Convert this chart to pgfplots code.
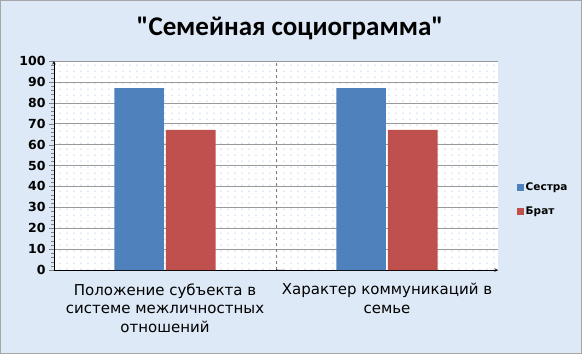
\documentclass[border=0pt]{standalone}
\usepackage{fontspec}
\setmainfont{DejaVu Sans}
\newfontfamily\titlefont{Carlito}
\usepackage{pgfplots}
\pgfplotsset{compat=1.18}
\usetikzlibrary{patterns}
\definecolor{bgblue}{RGB}{221,233,246}
\definecolor{sestra}{RGB}{79,129,189}
\definecolor{brat}{RGB}{192,80,77}
\definecolor{dotblue}{RGB}{100,145,205}
\pgfdeclarepatternformonly{mydots}{\pgfpointorigin}{\pgfpoint{6.5pt}{6pt}}{\pgfpoint{6.5pt}{6pt}}{%
  \pgfpathcircle{\pgfpoint{1pt}{1pt}}{0.55pt}\pgfusepath{fill}}
\begin{document}
\begin{tikzpicture}[x=1pt,y=1pt]
\useasboundingbox (0,0) rectangle (582,354);
\fill[bgblue] (0,0) rectangle (582,354);
\draw[gray!70,line width=0.8pt] (0.5,0.5) rectangle (581.5,353.5);
\node[font=\titlefont\bfseries\fontsize{27}{30}\selectfont] at (290,326) {"Семейная социограмма"};
\begin{axis}[
  at={(54pt,84pt)}, anchor=south west,
  scale only axis, width=444pt, height=209pt,
  xmin=-0.5, xmax=1.5, ymin=0, ymax=100,
  axis lines=left,
  axis line style={black, line width=0.6pt},
  axis background/.style={fill=white, postaction={pattern=mydots, pattern color=dotblue}},
  ybar, bar width=0.224, bar shift auto,
  xtick={0,1}, xticklabels={{Положение субъекта в\\системе межличностных\\отношений},{Характер коммуникаций в\\семье}},
  xticklabel style={align=center, font=\fontsize{15}{18.5}\selectfont, yshift=-5pt},
  x tick style={draw=none},
  ytick={0,10,...,100},
  minor y tick num=4,
  yticklabel style={font=\bfseries\fontsize{12.5}{14}\selectfont},
  /pgf/number format/assume math mode=true,
  tick align=outside,
  major tick length=5pt, minor tick length=2.5pt,
  ymajorgrids, major grid style={gray!80, line width=0.6pt},
  legend style={at={(1.035,0.338)}, anchor=west, draw=none, fill=none,
    font=\bfseries\fontsize{10.5}{12}\selectfont, row sep=10pt, cells={anchor=west}},
  legend image code/.code={\fill[#1] (0pt,-3.5pt) rectangle (7pt,3.5pt);},
]
\addplot[fill=sestra, draw=none] coordinates {(0,87) (1,87)};
\addplot[fill=brat, draw=none] coordinates {(0,67) (1,67)};
\legend{Сестра, Брат}
\draw[gray, dashed, line width=0.7pt] (axis cs:0.5,0) -- (axis cs:0.5,100);
\draw[black, line width=0.6pt] (axis cs:0.5,0) -- ++(0,-4pt);
\end{axis}
\end{tikzpicture}
\end{document}
